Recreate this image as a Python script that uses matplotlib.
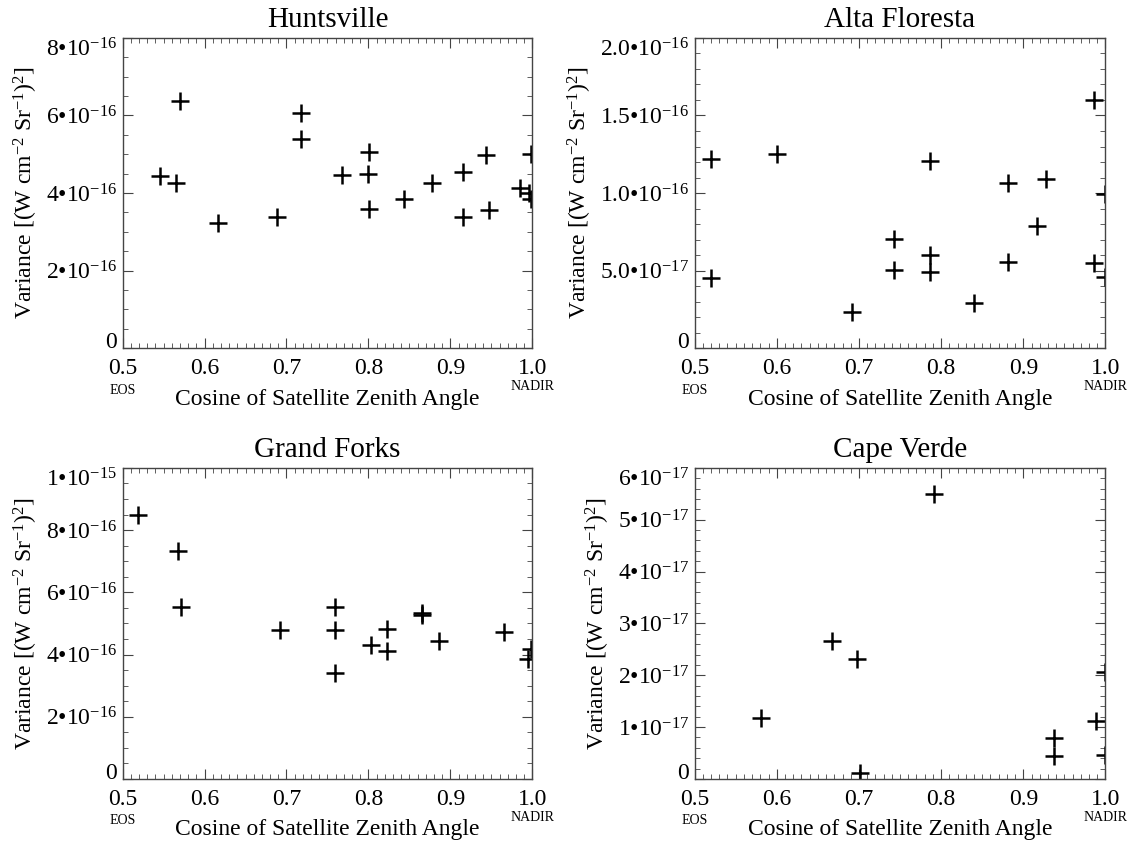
import matplotlib
matplotlib.use("Agg")
import matplotlib.pyplot as plt
from matplotlib.ticker import MultipleLocator
import matplotlib.transforms as mtransforms

plt.rcParams['font.family'] = ['Liberation Serif', 'DejaVu Serif']
plt.rcParams['mathtext.fontset'] = 'custom'
plt.rcParams['mathtext.rm'] = 'Liberation Serif'
plt.rcParams['mathtext.it'] = 'Liberation Serif:italic'
plt.rcParams['mathtext.bf'] = 'Liberation Serif:bold'

# ---- data (cosine of zenith angle, variance) ----
hunt_x = [0.546, 0.570, 0.565, 0.616, 0.688, 0.718, 0.718, 0.768, 0.801, 0.800,
          0.801, 0.844, 0.878, 0.915, 0.916, 0.943, 0.947, 0.985, 0.999, 0.996, 0.999]
hunt_y = [4.45e-16, 6.38e-16, 4.25e-16, 3.22e-16, 3.39e-16, 6.07e-16, 5.40e-16, 4.46e-16,
          5.06e-16, 4.49e-16, 3.59e-16, 3.84e-16, 4.27e-16, 4.53e-16, 3.39e-16, 4.98e-16,
          3.57e-16, 4.12e-16, 5.00e-16, 4.00e-16, 3.85e-16]

alta_x = [0.520, 0.520, 0.600, 0.691, 0.743, 0.743, 0.787, 0.787, 0.787, 0.840,
          0.881, 0.881, 0.917, 0.928, 0.986, 0.986, 0.999, 0.999]
alta_y = [1.217e-16, 0.451e-16, 1.251e-16, 0.230e-16, 0.702e-16, 0.504e-16, 1.208e-16,
          0.601e-16, 0.494e-16, 0.294e-16, 1.067e-16, 0.558e-16, 0.788e-16, 1.088e-16,
          1.603e-16, 0.552e-16, 0.994e-16, 0.461e-16]

gf_x = [0.519, 0.568, 0.571, 0.692, 0.759, 0.759, 0.759, 0.803, 0.823, 0.823,
        0.865, 0.865, 0.886, 0.965, 0.998, 0.995]
gf_y = [8.50e-16, 7.32e-16, 5.53e-16, 4.80e-16, 5.52e-16, 4.80e-16, 3.41e-16, 4.29e-16,
        4.83e-16, 4.10e-16, 5.34e-16, 5.26e-16, 4.45e-16, 4.73e-16, 4.18e-16, 3.85e-16]

cv_x = [0.581, 0.667, 0.698, 0.701, 0.791, 0.937, 0.937, 0.989, 0.999, 0.999]
cv_y = [1.18e-17, 2.66e-17, 2.32e-17, 0.12e-17, 5.49e-17, 0.79e-17, 0.45e-17,
        1.11e-17, 2.06e-17, 0.47e-17]

x_ticks = [0.5, 0.6, 0.7, 0.8, 0.9, 1.0]
x_ticklabels = ['0.5', '0.6', '0.7', '0.8', '0.9', '1.0']

hunt_ticks = [0, 2e-16, 4e-16, 6e-16, 8e-16]
hunt_labels = ['0', '2•10$^{-16}$', '4•10$^{-16}$', '6•10$^{-16}$', '8•10$^{-16}$']
alta_ticks = [0, 5e-17, 1e-16, 1.5e-16, 2e-16]
alta_labels = ['0', '5.0•10$^{-17}$', '1.0•10$^{-16}$', '1.5•10$^{-16}$', '2.0•10$^{-16}$']
gf_ticks = [0, 2e-16, 4e-16, 6e-16, 8e-16, 1e-15]
gf_labels = ['0', '2•10$^{-16}$', '4•10$^{-16}$', '6•10$^{-16}$', '8•10$^{-16}$', '1•10$^{-15}$']
cv_ticks = [0, 1e-17, 2e-17, 3e-17, 4e-17, 5e-17, 6e-17]
cv_labels = ['0', '1•10$^{-17}$', '2•10$^{-17}$', '3•10$^{-17}$', '4•10$^{-17}$',
             '5•10$^{-17}$', '6•10$^{-17}$']

panels = [
    ('Huntsville', hunt_x, hunt_y, hunt_ticks, hunt_labels, 5e-17, [0.108, 0.587, 0.361, 0.368]),
    ('Alta Floresta', alta_x, alta_y, alta_ticks, alta_labels, 1e-17, [0.612, 0.587, 0.362, 0.368]),
    ('Grand Forks', gf_x, gf_y, gf_ticks, gf_labels, 5e-17, [0.108, 0.076, 0.361, 0.369]),
    ('Cape Verde', cv_x, cv_y, cv_ticks, cv_labels, 2e-18, [0.612, 0.076, 0.362, 0.369]),
]

fig = plt.figure(figsize=(11.35, 8.43), dpi=100)

for title, xs, ys, yt, ylab, yminor, rect in panels:
    ax = fig.add_axes(rect)
    ax.plot(xs, ys, linestyle='none', marker='+', markersize=13,
            markeredgewidth=1.8, color='black')
    ax.set_xlim(0.5, 1.0)
    ax.set_ylim(yt[0], yt[-1])
    ax.set_xticks(x_ticks)
    ax.set_xticklabels(x_ticklabels)
    ax.set_yticks(yt)
    ax.set_yticklabels(ylab)
    ax.xaxis.set_minor_locator(MultipleLocator(0.01))
    ax.yaxis.set_minor_locator(MultipleLocator(yminor))
    ax.tick_params(which='both', direction='in', top=True, right=True,
                   labelsize=17, color='#444444')
    ax.tick_params(which='major', length=7, width=0.8)
    ax.tick_params(which='minor', length=3.5, width=0.6)
    ax.tick_params(axis='x', pad=7)
    ax.tick_params(axis='y', pad=4)
    # IDL-style: end labels sit inside the axis range
    ylabels = ax.get_yticklabels()
    ylabels[0].set_verticalalignment('baseline')
    ylabels[-1].set_verticalalignment('top')
    for s in ax.spines.values():
        s.set_color('#444444')
        s.set_linewidth(1.0)
    ax.set_title(title, fontsize=21, pad=8)
    ax.set_xlabel('Cosine of Satellite Zenith Angle', fontsize=17, labelpad=7)
    ax.set_ylabel('Variance [(W cm$^{-2}$ Sr$^{-1}$)$^{2}$]', fontsize=17, labelpad=4)
    trans = mtransforms.blended_transform_factory(ax.transData, ax.transAxes)
    ax.text(0.5, -0.135, 'EOS', transform=trans, ha='center', va='center', fontsize=10)
    ax.text(1.0, -0.125, 'NADIR', transform=trans, ha='center', va='center', fontsize=10)

fig.savefig('out.png', dpi=100)
